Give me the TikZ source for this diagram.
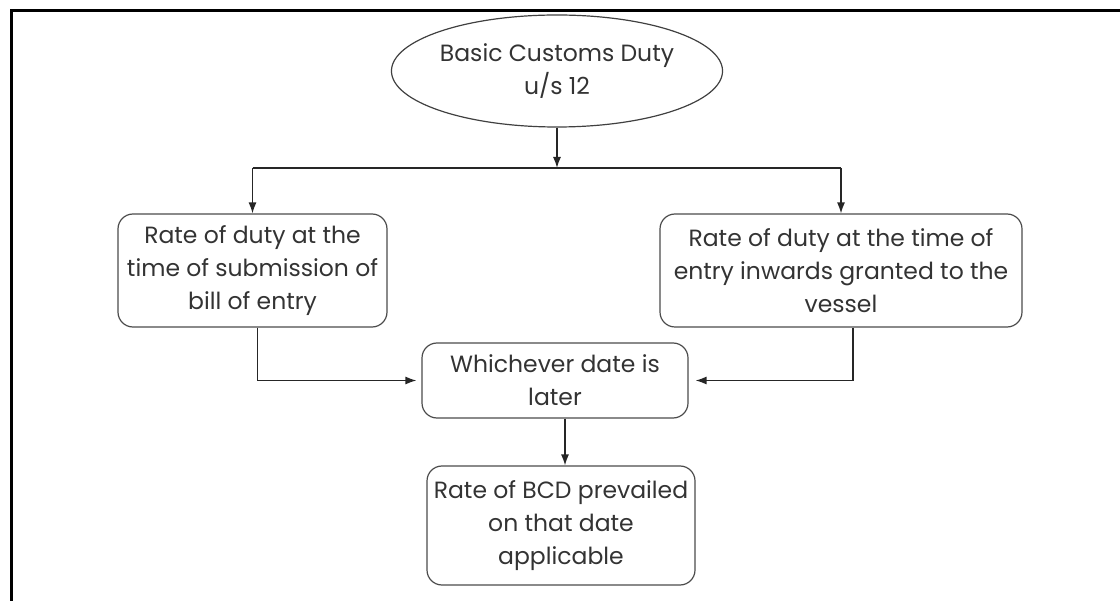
\documentclass[tikz,border=0pt]{standalone}
\usepackage{fontspec}
\setmainfont{Poppins}
\usetikzlibrary{shapes.geometric,arrows.meta}
\begin{document}
\begin{tikzpicture}[x=1pt,y=-1pt,
  txt/.style={font=\fontsize{23.5}{33}\selectfont, text=black!80, align=center, inner sep=0pt},
  rbox/.style={txt, draw=black!70, line width=1.2pt, rounded corners=15pt},
  oval/.style={txt, draw=black!75, line width=1.2pt, ellipse},
  arr/.style={draw=black!85, line width=1.3pt, -{Latex[length=11pt,width=8pt]}},
  ln/.style={draw=black!85, line width=1.3pt}]
\useasboundingbox (0,0) rectangle (1120,601);
\draw[line width=3pt] (11,601) -- (11,11) -- (1120,11);
\node[oval, minimum width=285pt, minimum height=112pt] (top) at (557,71) {Basic Customs Duty\\u/s 12};
\node[rbox, minimum width=269pt, minimum height=113pt] (L) at (252.5,270.5) {Rate of duty at the\\time of submission of\\bill of entry};
\node[rbox, minimum width=362pt, minimum height=113pt] (R) at (841,270.5) {Rate of duty at the time of\\entry inwards granted to the\\vessel};
\node[rbox, minimum width=266pt, minimum height=75pt] (W) at (555,380.5) {Whichever date is\\later};
\node[rbox, minimum width=268pt, minimum height=119pt] (B) at (561,525.5) {Rate of BCD prevailed\\on that date\\applicable};
\coordinate (hl) at (557,168);
\draw[arr] (top.south) -- (hl);
\draw[ln] (L |- hl) -- (R |- hl);
\draw[arr] (L |- hl) -- (L.north);
\draw[arr] (R |- hl) -- (R.north);
\draw[arr, shorten >=5pt] ([xshift=5pt]L.south) |- (W.west);
\draw[arr, shorten >=7pt] ([xshift=12pt]R.south) |- (W.east);
\draw[arr] ([xshift=10pt]W.south) -- ([xshift=10pt]W.south |- B.north);
\end{tikzpicture}
\end{document}
